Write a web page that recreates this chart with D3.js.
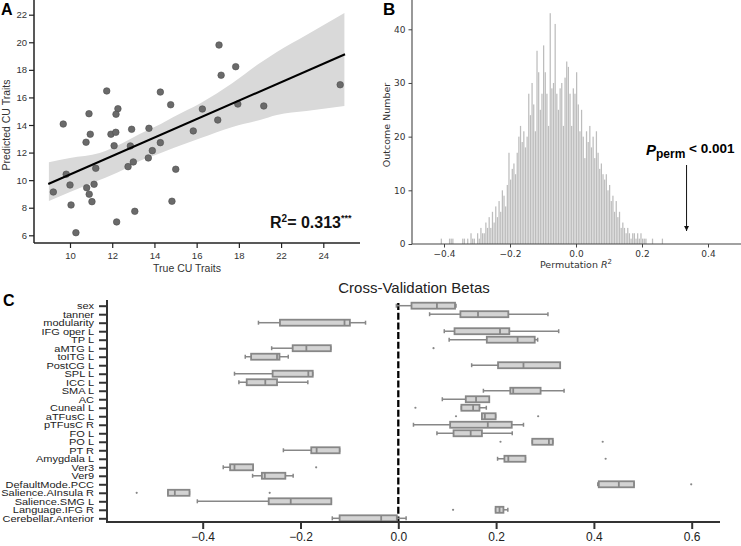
<!DOCTYPE html>
<html><head><meta charset="utf-8">
<script src="https://cdn.jsdelivr.net/npm/d3@7"></script>
<style>
body{margin:0;background:#fff;}
svg{display:block;}
</style>
</head><body>
<svg id="chart" width="741" height="546"></svg>
<script>
// ---------------- DATA ----------------
// Panel A: scatter (True vs Predicted CU traits)
const trueCU = [17.06,17.85,17.16,11.74,14.28,22.80,10.90,12.27,12.18,14.77,16.27,17.95,19.18,17.00,9.68,10.96,11.94,12.17,12.92,13.74,15.84,10.76,12.09,12.86,14.28,13.90,13.71,12.75,13.00,15.01,11.22,9.82,10.00,9.21,10.79,11.14,10.91,10.05,11.04,14.83,13.07,12.21,10.28];
const predCU = [19.80,18.23,17.61,16.47,16.39,16.92,14.82,15.18,14.78,15.47,15.16,15.52,15.38,14.36,14.07,13.33,13.33,13.47,13.69,13.76,13.57,12.75,12.50,12.48,12.72,12.14,11.61,10.98,11.32,10.79,10.86,10.43,9.65,9.14,9.45,9.70,8.98,8.20,8.44,8.47,7.74,6.97,6.19];
const regX = [8.97, 23.03];
const regY = [9.72, 19.13];
const ciX  = [9.0, 10.0, 11.4, 12.5, 13.3, 14.3, 14.9, 16.2, 17.7, 19.0, 19.8, 21.2, 23.0];
const ciHi = [11.30,11.61,11.97,12.70,13.35,14.07,14.58,15.60,17.05,18.50,19.30,20.53,22.12];
const ciLo = [8.49,9.14,10.01,10.74,11.39,11.97,12.33,13.06,13.86,14.37,14.73,15.02,15.38];
const yTicksA = [6,8,10,12,14,16,18,20,22];
const xTickValsA = [10,12,14,16,18,20,22];
const xTickLabelsA = ["10","12","14","16","18","22","24"];

// Panel B: permutation histogram (bin start -0.42, width 0.005)
const histStart = -0.42, histWidth = 0.005;
const histCounts = [0,0,1,0,0,0,0,1,1,1,0,0,0,0,0,1,1,0,1,0,
  2,1,1,0,2,1,3,2,2,4,3,5,3,6,4,7,5,8,6,10,
  9,7,11,17,12,14,15,13,17,20,22,19,21,18,20,28,24,30,26,21,
  36,32,25,28,37,32,28,22,43,29,30,41,28,25,29,30,22,31,34,33,
  28,22,29,28,32,26,21,25,20,16,21,19,22,18,20,16,21,17,14,15,
  13,12,13,10,11,8,9,6,8,5,6,3,4,3,2,3,2,1,2,2,
  1,2,1,2,1,1,1,0,0,0,1,0,0,0,0,0,1];
const yTicksB = [0,10,20,30,40];
const xTicksB = [-0.4,-0.2,0.0,0.2,0.4];
const observedR2 = 0.335;

// Panel C: cross-validation betas
const categories = ["sex","tanner","modularity","IFG oper L","TP L","aMTG L","toITG L","PostCG L","SPL L","ICC L","SMA L","AC","Cuneal L","aTFusC L","pTFusC R","FO L","PO L","PT R","Amygdala L","Ver3","Ver9","DefaultMode.PCC","Salience.AInsula R","Salience.SMG L","Language.IFG R","Cerebellar.Anterior"];
const whiskLo = [-0.004,0.064,-0.286,0.094,0.104,-0.259,-0.313,0.150,-0.335,-0.326,0.174,0.090,0.129,0.171,0.031,0.079,0.274,-0.235,0.203,-0.358,-0.298,0.408,-0.471,-0.411,0.199,-0.135];
const q1      = [0.027,0.127,-0.242,0.115,0.181,-0.216,-0.301,0.204,-0.257,-0.310,0.229,0.138,0.129,0.171,0.106,0.113,0.274,-0.178,0.217,-0.344,-0.279,0.410,-0.471,-0.265,0.199,-0.120];
const median  = [0.079,0.163,-0.110,0.208,0.244,-0.188,-0.248,0.256,-0.184,-0.272,0.235,0.159,0.153,0.177,0.183,0.148,0.308,-0.167,0.225,-0.335,-0.273,0.451,-0.457,-0.220,0.207,-0.035];
const q3      = [0.116,0.225,-0.099,0.227,0.279,-0.138,-0.243,0.331,-0.175,-0.248,0.291,0.186,0.166,0.199,0.232,0.171,0.316,-0.120,0.260,-0.297,-0.231,0.482,-0.427,-0.137,0.215,-0.003];
const whiskHi = [0.118,0.306,-0.067,0.328,0.285,-0.138,-0.225,0.331,-0.175,-0.185,0.339,0.186,0.180,0.199,0.256,0.233,0.316,-0.120,0.260,-0.297,-0.215,0.482,-0.427,-0.137,0.224,0.016];
const outlierCat = ["aMTG L","Cuneal L","aTFusC L","aTFusC L","PO L","PO L","Amygdala L","Ver3","DefaultMode.PCC","Salience.AInsula R","Salience.AInsula R","Language.IFG R"];
const outlierVal = [0.072,0.035,0.118,0.286,0.209,0.418,0.424,-0.168,0.599,-0.535,-0.263,0.112];
const xTicksC = [-0.4,-0.2,0.0,0.2,0.4,0.6];

// ---------------- DRAW ----------------
const ARIAL = '"Liberation Sans", Arial, sans-serif';
const MPL = '"DejaVu Sans", sans-serif';
const svg = d3.select("#chart");

function styleAxis(g, font, size, color, lineColor, lineWidth) {
  g.select(".domain").remove();
  g.selectAll(".tick line").attr("stroke", lineColor).attr("stroke-width", lineWidth);
  g.selectAll(".tick text").attr("font-family", font).attr("font-size", size).attr("fill", color);
}

// ===== Panel A =====
const xA = d3.scaleLinear().domain([10, 22]).range([70, 323.3]);
const yA = d3.scaleLinear().domain([6, 22]).range([235.3, 14.7]);
const gA = svg.append("g");

const ciData = ciX.map((x, i) => ({x, lo: ciLo[i], hi: ciHi[i]}));
gA.append("path").datum(ciData)
  .attr("d", d3.area().x(d => xA(d.x)).y0(d => yA(d.lo)).y1(d => yA(d.hi)).curve(d3.curveMonotoneX))
  .attr("fill", "#d9d9d9");

gA.selectAll("circle.pt").data(trueCU.map((x, i) => ({x, y: predCU[i]}))).join("circle")
  .attr("cx", d => xA(d.x)).attr("cy", d => yA(d.y)).attr("r", 3.3)
  .attr("fill", "#6a6a6a").attr("stroke", "#4d4d4d").attr("stroke-width", 0.6);

gA.append("path").datum(regX.map((x, i) => ({x, y: regY[i]})))
  .attr("d", d3.line().x(d => xA(d.x)).y(d => yA(d.y)))
  .attr("stroke", "#000").attr("stroke-width", 2).attr("fill", "none");

// spines
gA.append("line").attr("x1", 34).attr("x2", 34).attr("y1", 0).attr("y2", 243).attr("stroke", "#222").attr("stroke-width", 1.5);
gA.append("line").attr("x1", 34).attr("x2", 360).attr("y1", 243).attr("y2", 243).attr("stroke", "#222").attr("stroke-width", 1.5);

const axAy = gA.append("g").attr("transform", "translate(34,0)")
  .call(d3.axisLeft(yA).tickValues(yTicksA).tickSize(5).tickPadding(2).tickFormat(d3.format("d")));
styleAxis(axAy, ARIAL, 9.5, "#333", "#222", 1.2);
const axAx = gA.append("g").attr("transform", "translate(0,243)")
  .call(d3.axisBottom(xA).tickValues(xTickValsA).tickSize(5).tickPadding(4).tickFormat((d, i) => xTickLabelsA[i]));
styleAxis(axAx, ARIAL, 9.5, "#333", "#222", 1.2);

gA.append("text").attr("transform", "translate(10,125) rotate(-90)").attr("text-anchor", "middle")
  .attr("font-family", ARIAL).attr("font-size", 10.5).attr("fill", "#333").text("Predicted CU Traits");
gA.append("text").attr("x", 187).attr("y", 272).attr("text-anchor", "middle")
  .attr("font-family", ARIAL).attr("font-size", 10.5).attr("fill", "#333").text("True CU Traits");

const r2 = gA.append("text").attr("x", 270).attr("y", 228).attr("font-family", ARIAL)
  .attr("font-weight", "bold").attr("font-size", 16).attr("fill", "#111");
r2.append("tspan").text("R");
r2.append("tspan").attr("font-size", 10).attr("dy", -6).text("2");
r2.append("tspan").attr("dy", 6).text("= 0.313");
r2.append("tspan").attr("font-size", 9).attr("dy", -7).text("***");

svg.append("text").attr("x", 1).attr("y", 15).attr("font-family", ARIAL).attr("font-weight", "bold")
  .attr("font-size", 16).attr("fill", "#000").text("A");

// ===== Panel B =====
const xB = d3.scaleLinear().domain([-0.5, 0.5]).range([411, 741]);
const yB = d3.scaleLinear().domain([0, 40]).range([244, 29.3]);
const gB = svg.append("g");

gB.selectAll("rect.bar").data(histCounts).join("rect")
  .attr("x", (d, i) => xB(histStart + i * histWidth))
  .attr("width", (d, i) => Math.max(0.5, xB(histStart + (i + 1) * histWidth) - xB(histStart + i * histWidth) - 0.4))
  .attr("y", d => yB(d)).attr("height", d => yB(0) - yB(d))
  .attr("fill", "#bdbdbd");

gB.append("line").attr("x1", 412).attr("x2", 412).attr("y1", 0).attr("y2", 244).attr("stroke", "#444").attr("stroke-width", 1.1);
gB.append("line").attr("x1", 412).attr("x2", 741).attr("y1", 244).attr("y2", 244).attr("stroke", "#444").attr("stroke-width", 1.1);

const axBy = gB.append("g").attr("transform", "translate(412,0)")
  .call(d3.axisLeft(yB).tickValues(yTicksB).tickSize(3.5).tickPadding(3).tickFormat(d3.format("d")));
styleAxis(axBy, MPL, 9, "#333", "#444", 1);
const axBx = gB.append("g").attr("transform", "translate(0,244)")
  .call(d3.axisBottom(xB).tickValues(xTicksB).tickSize(3.5).tickPadding(3)
    .tickFormat(d => d3.format(".1f")(d).replace("-", "\u2212")));
styleAxis(axBx, MPL, 9, "#333", "#444", 1);

gB.append("text").attr("transform", "translate(390,125) rotate(-90)").attr("text-anchor", "middle")
  .attr("font-family", MPL).attr("font-size", 9.5).attr("fill", "#333").text("Outcome Number");
const pl = gB.append("text").attr("x", xB(0)).attr("y", 268).attr("text-anchor", "middle")
  .attr("font-family", MPL).attr("font-size", 9.5).attr("fill", "#333");
pl.append("tspan").text("Permutation ");
pl.append("tspan").attr("font-style", "italic").text("R");
pl.append("tspan").attr("font-size", 7).attr("dy", -4).text("2");

// arrow
svg.append("defs").append("marker").attr("id", "arr").attr("viewBox", "0 0 10 10")
  .attr("refX", 10).attr("refY", 5).attr("markerWidth", 5).attr("markerHeight", 5).attr("orient", "auto")
  .append("path").attr("d", "M0,0 L10,5 L0,10 z").attr("fill", "#111");
gB.append("line").attr("x1", xB(observedR2)).attr("x2", xB(observedR2)).attr("y1", 165).attr("y2", 231)
  .attr("stroke", "#111").attr("stroke-width", 1).attr("marker-end", "url(#arr)");

const pp = gB.append("text").attr("x", 646).attr("y", 155).attr("font-family", ARIAL)
  .attr("font-weight", "bold").attr("fill", "#000");
pp.append("tspan").attr("font-style", "italic").attr("font-size", 15).text("P");
pp.append("tspan").attr("font-size", 12).attr("dy", 3).text("perm");
pp.append("tspan").attr("font-size", 13.5).attr("dy", -5).text(" < 0.001");

svg.append("text").attr("x", 383).attr("y", 15).attr("font-family", ARIAL).attr("font-weight", "bold")
  .attr("font-size", 17).attr("fill", "#000").text("B");

// ===== Panel C =====
const xC = d3.scaleLinear().domain([-0.4, 0.6]).range([202.7, 691.7]);
const yC = d3.scalePoint().domain(categories).range([305.7, 518.3]);
const gC = svg.append("g");

svg.append("text").attr("x", 414).attr("y", 293).attr("text-anchor", "middle").attr("font-family", ARIAL)
  .attr("font-size", 15).attr("fill", "#222").text("Cross-Validation Betas");

// dashed zero line
gC.append("line").attr("x1", xC(0)).attr("x2", xC(0)).attr("y1", 303).attr("y2", 522)
  .attr("stroke", "#000").attr("stroke-width", 2.3).attr("stroke-dasharray", "7,2.7");

const boxes = categories.map((c, i) => ({c, lo: whiskLo[i], q1: q1[i], med: median[i], q3: q3[i], hi: whiskHi[i]}));
const BOXH = 6, CAPH = 4, GREY = "#878787";
const bg = gC.selectAll("g.box").data(boxes).join("g").attr("transform", d => `translate(0,${yC(d.c)})`);
bg.append("line").attr("x1", d => xC(d.lo)).attr("x2", d => xC(d.q1)).attr("stroke", GREY).attr("stroke-width", 1.5);
bg.append("line").attr("x1", d => xC(d.q3)).attr("x2", d => xC(d.hi)).attr("stroke", GREY).attr("stroke-width", 1.5);
bg.append("line").attr("x1", d => xC(d.lo)).attr("x2", d => xC(d.lo)).attr("y1", -CAPH / 2).attr("y2", CAPH / 2).attr("stroke", GREY).attr("stroke-width", 1.5);
bg.append("line").attr("x1", d => xC(d.hi)).attr("x2", d => xC(d.hi)).attr("y1", -CAPH / 2).attr("y2", CAPH / 2).attr("stroke", GREY).attr("stroke-width", 1.5);
bg.append("rect").attr("x", d => xC(d.q1)).attr("width", d => Math.max(0.5, xC(d.q3) - xC(d.q1)))
  .attr("y", -BOXH / 2).attr("height", BOXH).attr("fill", "#d3d3d3").attr("stroke", GREY).attr("stroke-width", 1.8);
bg.append("line").attr("x1", d => xC(d.med)).attr("x2", d => xC(d.med)).attr("y1", -BOXH / 2).attr("y2", BOXH / 2)
  .attr("stroke", GREY).attr("stroke-width", 1.8);

gC.selectAll("circle.out").data(outlierCat.map((c, i) => ({c, v: outlierVal[i]}))).join("circle")
  .attr("cx", d => xC(d.v)).attr("cy", d => yC(d.c)).attr("r", 1.1).attr("fill", GREY);

// spines
gC.append("line").attr("x1", 107).attr("x2", 107).attr("y1", 300).attr("y2", 523).attr("stroke", "#333").attr("stroke-width", 2);
gC.append("line").attr("x1", 106).attr("x2", 720).attr("y1", 522).attr("y2", 522).attr("stroke", "#333").attr("stroke-width", 2);

const axCy = gC.append("g").attr("transform", "translate(107,0)")
  .call(d3.axisLeft(yC).tickSize(8).tickPadding(5));
styleAxis(axCy, ARIAL, 11, "#222", "#333", 2);
axCy.selectAll(".tick text").attr("dy", "0.36em").attr("transform", "scale(1,0.76)");
const axCx = gC.append("g").attr("transform", "translate(0,522)")
  .call(d3.axisBottom(xC).tickValues(xTicksC).tickSize(7).tickPadding(3)
    .tickFormat(d => d3.format(".1f")(d).replace("-", "\u2212")));
styleAxis(axCx, ARIAL, 12, "#222", "#333", 2);

svg.append("text").attr("x", 3).attr("y", 306).attr("font-family", ARIAL).attr("font-weight", "bold")
  .attr("font-size", 16).attr("fill", "#000").text("C");
</script>
</body></html>
